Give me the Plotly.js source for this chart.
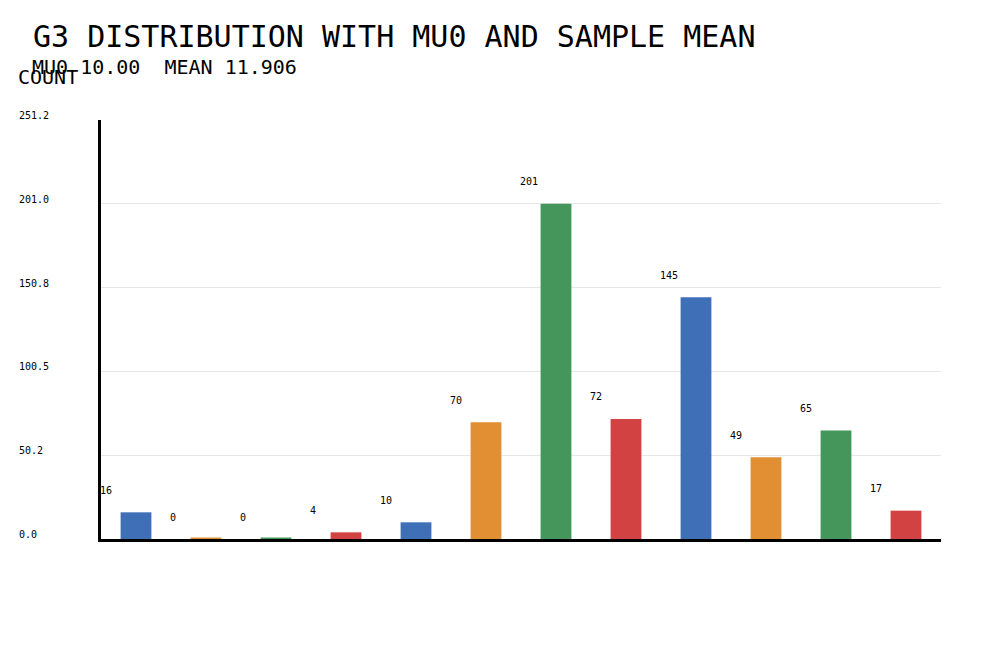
<!DOCTYPE html>
<html>
<head>
<meta charset="utf-8">
<script src="https://cdn.plot.ly/plotly-3.0.1.min.js"></script>
<style>html,body{margin:0;padding:0;background:#fff;}#chart{width:1000px;height:650px;}</style>
</head>
<body>
<div id="chart"></div>
<script>
const categories = [0,1,2,3,4,5,6,7,8,9,10,11];
const counts = [16, 0, 0, 4, 10, 70, 201, 72, 145, 49, 65, 17];
const palette = ["#3f6fb7", "#e28e32", "#44965b", "#d24242"];
const tickValues = [0, 50.25, 100.5, 150.75, 201.0, 251.25];
const tickLabels = ["0.0", "50.2", "100.5", "150.8", "201.0", "251.2"];
const titleText = "G3 DISTRIBUTION WITH MU0 AND SAMPLE MEAN";
const subtitleText = "MU0 10.00  MEAN 11.906";
const yLabel = "COUNT";

const FONT = "DejaVu Sans Mono, Liberation Mono, monospace";
const barWidth = 0.44;
const colors = categories.map((c, i) => palette[i % palette.length]);

const trace = {
  type: "bar",
  x: categories,
  y: counts,
  width: barWidth,
  marker: {
    color: colors,
    line: { color: colors, width: counts.map(v => v === 0 ? 3 : 0) }
  },
  hoverinfo: "none",
  showlegend: false
};

const annotations = [];
counts.forEach((v, i) => {
  annotations.push({
    xref: "x", yref: "y",
    x: categories[i] - barWidth / 2, y: v,
    text: String(v), showarrow: false,
    xanchor: "left", yanchor: "middle",
    xshift: -23, yshift: 22,
    font: { family: FONT, size: 10, color: "#000" }
  });
});
tickValues.forEach((t, i) => {
  annotations.push({
    xref: "paper", yref: "y",
    x: -0.0988, y: t,
    text: tickLabels[i], showarrow: false,
    xanchor: "left", yanchor: "bottom", borderpad: 0, yshift: -2,
    font: { family: FONT, size: 10, color: "#000" }
  });
});
annotations.push({
  xref: "paper", yref: "paper", x: -0.0845, y: 1.126,
  text: subtitleText, showarrow: false, xanchor: "left", yanchor: "middle",
  font: { family: FONT, size: 20, color: "#000" }
});
annotations.push({
  xref: "paper", yref: "paper", x: -0.1012, y: 1.1024,
  text: yLabel, showarrow: false, xanchor: "left", yanchor: "middle",
  font: { family: FONT, size: 20, color: "#000" }
});

const layout = {
  width: 1000, height: 650,
  margin: { l: 101, r: 59, t: 120, b: 111, pad: 0 },
  paper_bgcolor: "#fff", plot_bgcolor: "#fff",
  title: {
    text: titleText,
    xref: "container", yref: "container",
    x: 0.033, y: 1 - 36 / 650, xanchor: "left", yanchor: "middle",
    font: { family: FONT, size: 30, color: "#000" }
  },
  xaxis: {
    type: "linear", range: [-0.5, 11.5], layer: "below traces",
    showticklabels: false, ticks: "", showgrid: false, zeroline: false,
    showline: true, linecolor: "#000", linewidth: 3
  },
  yaxis: {
    range: [0, 251.25],
    tickvals: tickValues, showticklabels: false, ticks: "",
    showgrid: true, gridcolor: "#e6e6e6", gridwidth: 1, zeroline: false,
    showline: true, linecolor: "#000", linewidth: 3
  },
  annotations: annotations,
  font: { family: FONT }
};

Plotly.newPlot("chart", [trace], layout, { staticPlot: true, displayModeBar: false });
</script>
</body>
</html>
